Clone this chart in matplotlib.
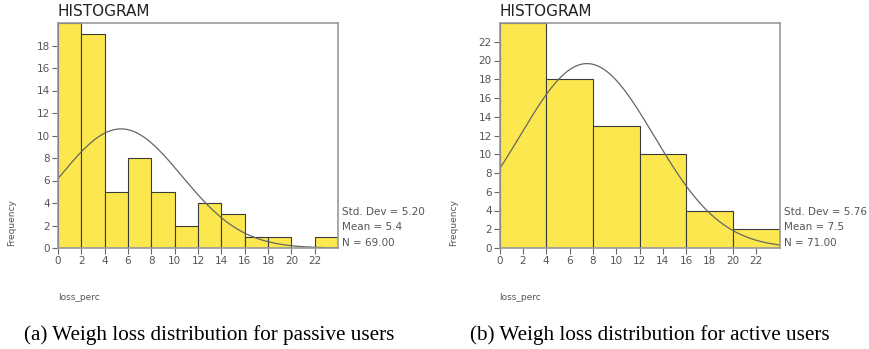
import numpy as np
import matplotlib
matplotlib.use("Agg")
import matplotlib.pyplot as plt

# Passive users
passive_edges = [0, 2, 4, 6, 8, 10, 12, 14, 16, 18, 20, 22, 24]
passive_counts = [20, 19, 5, 8, 5, 2, 4, 3, 1, 1, 0, 1]
passive_mean, passive_std, passive_n = 5.4, 5.20, 69
passive_yticks = [0, 2, 4, 6, 8, 10, 12, 14, 16, 18]

# Active users
active_edges = [0, 4, 8, 12, 16, 20, 24]
active_counts = [24, 18, 13, 10, 4, 2]
active_mean, active_std, active_n = 7.5, 5.76, 71
active_yticks = [0, 2, 4, 6, 8, 10, 12, 14, 16, 18, 20, 22]

xticks = [0, 2, 4, 6, 8, 10, 12, 14, 16, 18, 20, 22]

captions = ["(a) Weigh loss distribution for passive users",
            "(b) Weigh loss distribution for active users"]

W, H = 869, 349
fig = plt.figure(figsize=(W / 100, H / 100), dpi=100)

TXT = "#555555"
BAR = "#fce84e"


def panel(x0px, edges, counts, mean, std, n, yticks, ymax, caption, capx):
    left = x0px / W
    bottom = 1 - 248 / H
    top = 1 - 23 / H
    ax = fig.add_axes([left, bottom, 280 / W, top - bottom])
    edges = np.array(edges, dtype=float)
    widths = np.diff(edges)
    ax.bar(edges[:-1], counts, width=widths, align="edge", color=BAR,
           edgecolor="#3a3a3a", linewidth=0.8, zorder=2)
    bw = widths[0]
    xs = np.linspace(0, 24, 400)
    ys = n * bw * np.exp(-0.5 * ((xs - mean) / std) ** 2) / (std * np.sqrt(2 * np.pi))
    ax.plot(xs, ys, color="#666666", linewidth=0.9, zorder=3)
    ax.set_xlim(0, 24)
    ax.set_ylim(0, ymax)
    ax.set_xticks(xticks)
    ax.set_yticks(yticks)
    ax.tick_params(axis="both", colors="#666666", labelcolor=TXT, labelsize=7.5,
                   length=4, width=0.8, pad=1.5)
    for s in ax.spines.values():
        s.set_color("#999999")
        s.set_linewidth(1.2)
        s.set_zorder(4)
    fig.text(x0px / W, 1 - 11.5 / H, "HISTOGRAM", fontsize=11, color="#222222",
             ha="left", va="center")
    fig.text((x0px - 46) / W, 1 - 223 / H, "Frequency", fontsize=6.5, color=TXT,
             rotation=90, ha="center", va="center")
    fig.text(x0px / W, 1 - 297 / H, "loss_perc", fontsize=6.5, color=TXT,
             ha="left", va="center")
    stats = [f"Std. Dev = {std:.2f}", f"Mean = {mean:.1f}", f"N = {n:.2f}"]
    for i, s in enumerate(stats):
        fig.text((x0px + 284) / W, 1 - (212 + 15.5 * i) / H, s, fontsize=7.5,
                 color=TXT, ha="left", va="center")
    fig.text(capx / W, 1 - 335.5 / H, caption, fontsize=15.2, color="black",
             family="Liberation Serif", ha="center", va="center")
    return ax


panel(58, passive_edges, passive_counts, passive_mean, passive_std, passive_n,
      passive_yticks, 20, captions[0], 209)
panel(499.5, active_edges, active_counts, active_mean, active_std, active_n,
      active_yticks, 24, captions[1], 650)

fig.savefig("out.png", dpi=100)
